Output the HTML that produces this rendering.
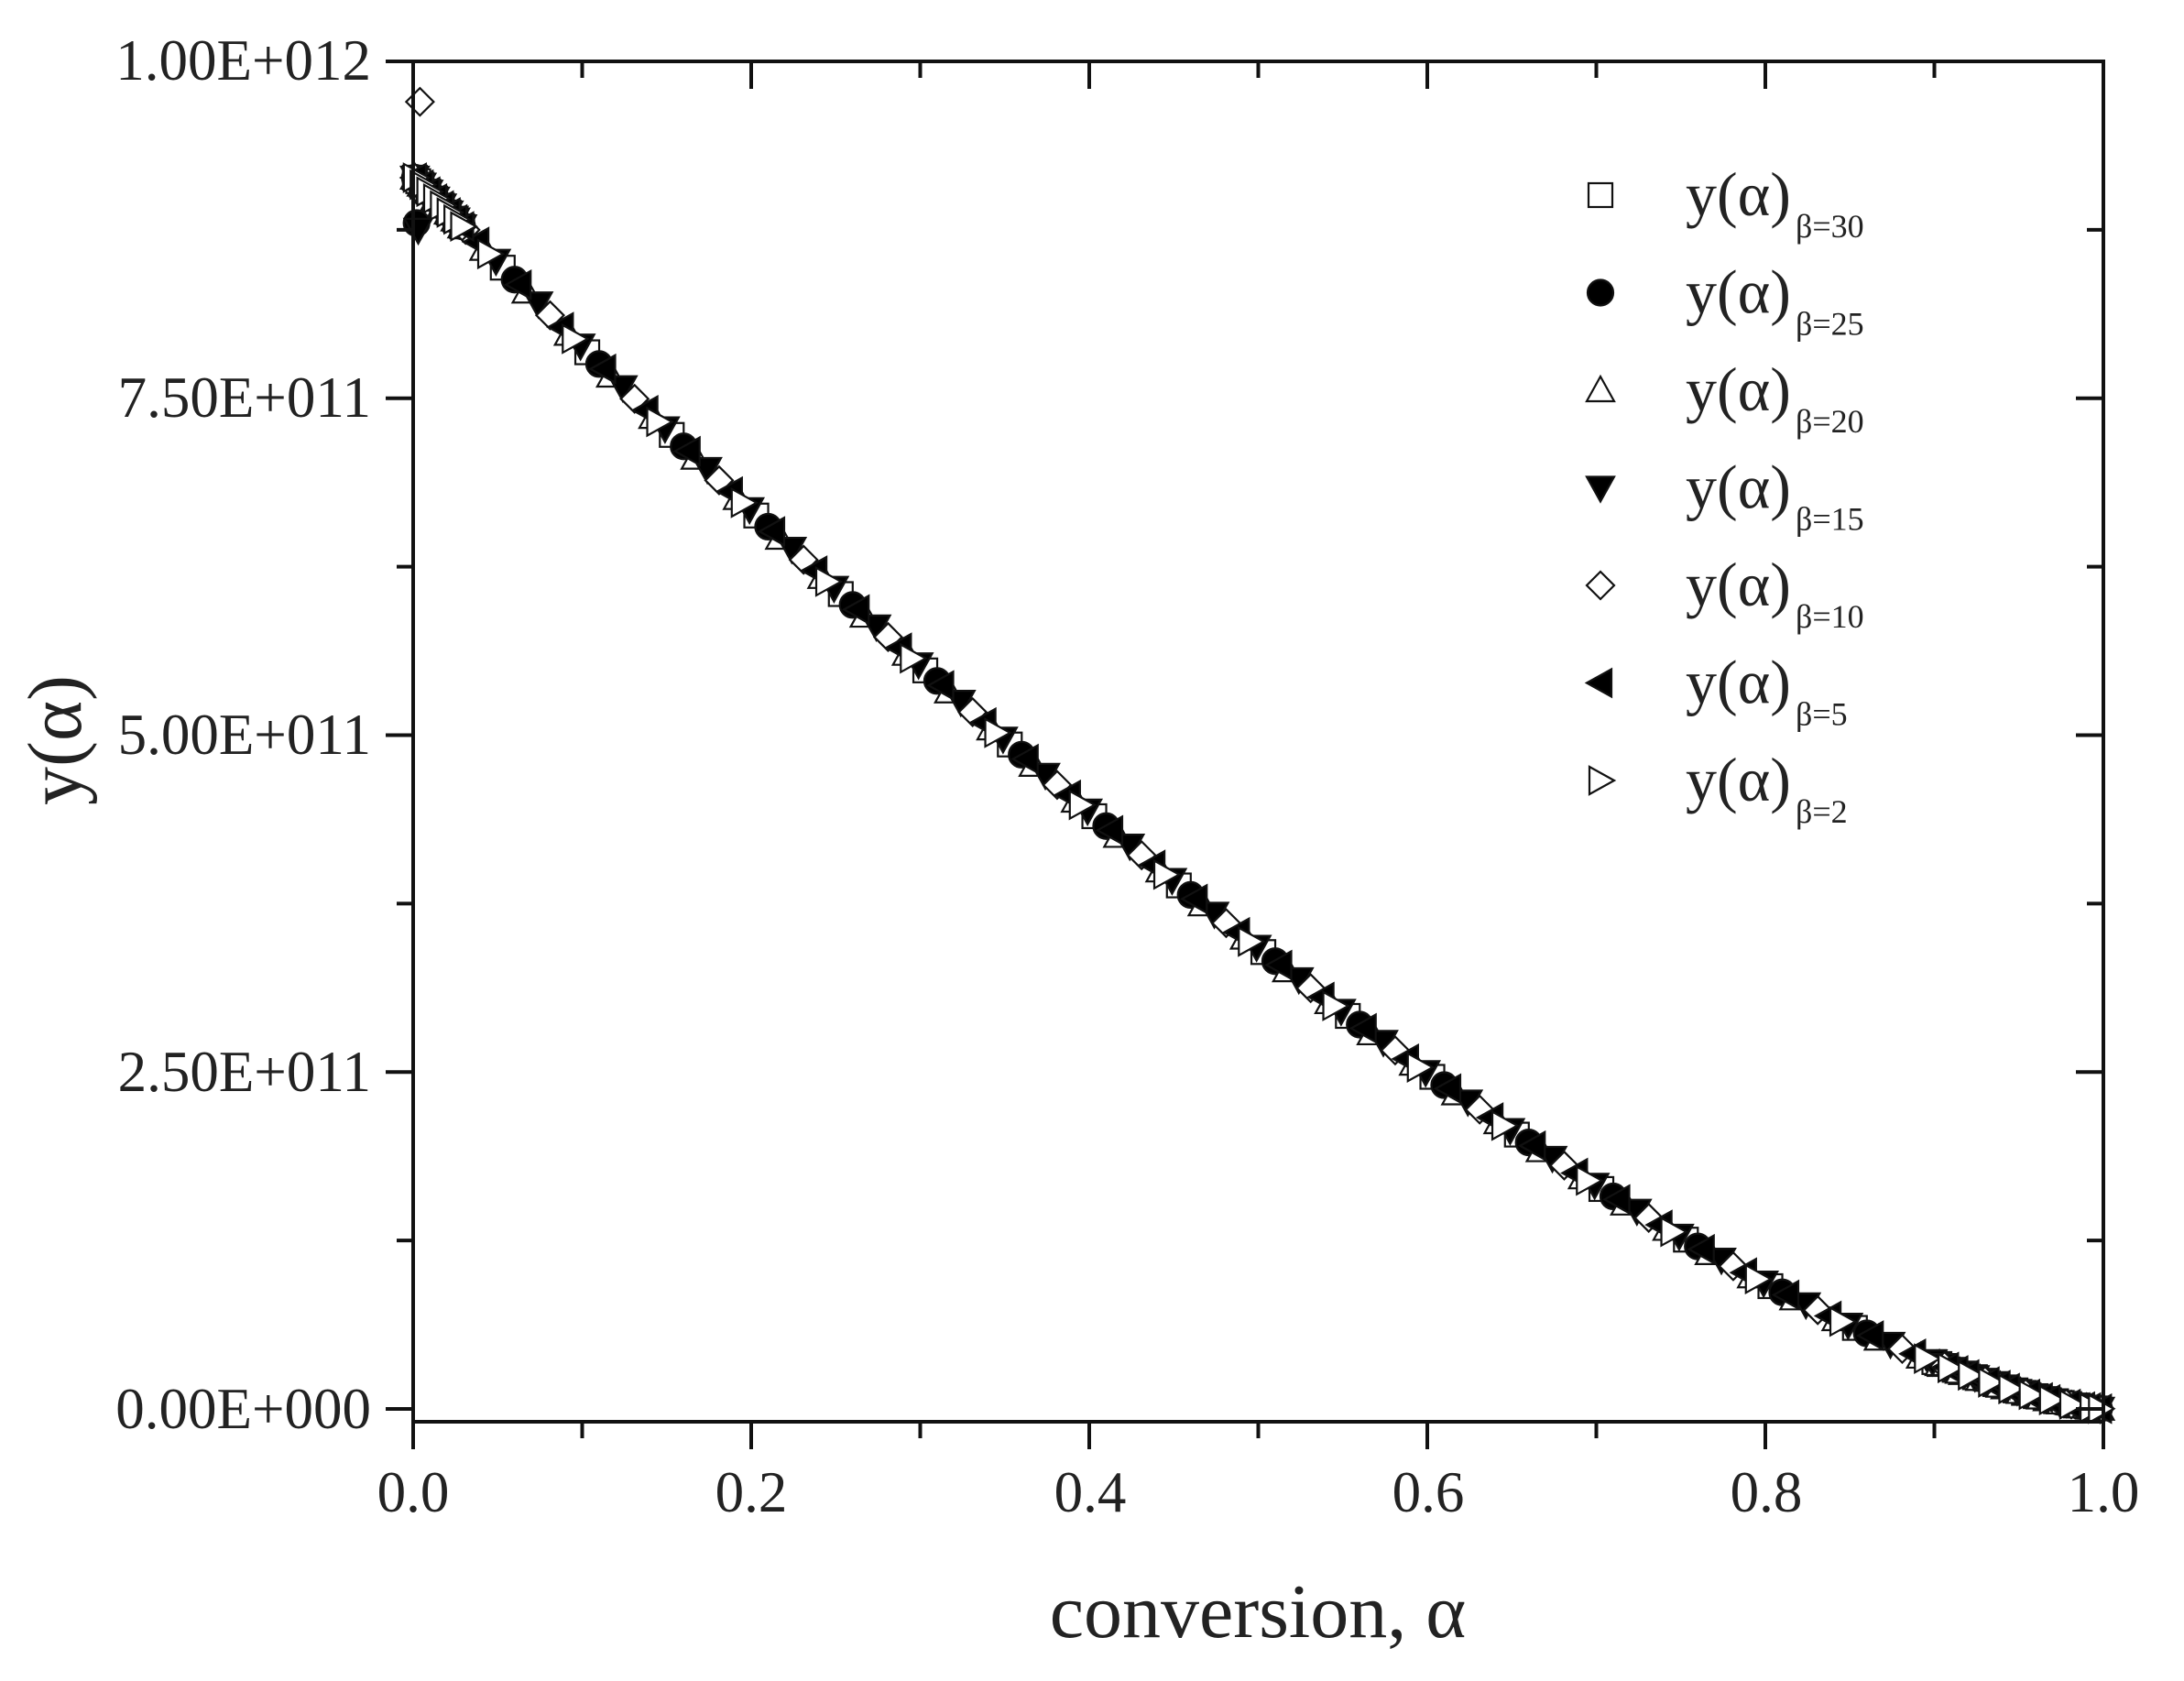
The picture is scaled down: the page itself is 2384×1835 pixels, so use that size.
<!DOCTYPE html>
<html><head><meta charset="utf-8"><style>
html,body{margin:0;padding:0;background:#fff;}
svg text{font-family:"Liberation Serif",serif;fill:#222;}
</style></head><body>
<svg id="s" width="2384" height="1830" xmlns="http://www.w3.org/2000/svg">
<g id="d" stroke="#111" stroke-width="2.2"></g>
<rect x="451" y="67" width="1845" height="1485" fill="none" stroke="#111" stroke-width="4"/>
<g id="t" stroke="#111" stroke-width="4"></g>
<g font-size="63" text-anchor="end">
<text x="405" y="87">1.00E+012</text>
<text x="405" y="455">7.50E+011</text>
<text x="405" y="823">5.00E+011</text>
<text x="405" y="1191">2.50E+011</text>
<text x="405" y="1559">0.00E+000</text>
</g>
<g font-size="63" text-anchor="middle">
<text x="451" y="1650">0.0</text>
<text x="820" y="1650">0.2</text>
<text x="1190" y="1650">0.4</text>
<text x="1559" y="1650">0.6</text>
<text x="1928" y="1650">0.8</text>
<text x="2296" y="1650">1.0</text>
</g>
<text x="1373" y="1787" font-size="84" text-anchor="middle">conversion, α</text>
<text transform="translate(88,808) rotate(-90)" font-size="84" text-anchor="middle">y(α)</text>
<g id="lg" stroke="#111" stroke-width="2.2"></g>
<g font-size="68" id="lt"></g>
</svg>
<script>
var NS="http://www.w3.org/2000/svg";
function el(p,n,a){var e=document.createElementNS(NS,n);for(var k in a)e.setAttribute(k,a[k]);p.appendChild(e);return e;}
var X=function(a){return 451+a*1845;}, Y=function(v){return 1538-v*1471;};
var t=document.getElementById('t');
for(var i=0;i<=10;i++){var x=X(i/10),L=i%2?18:30;
 el(t,'line',{x1:x,y1:1552,x2:x,y2:1552+L});el(t,'line',{x1:x,y1:67,x2:x,y2:67+L});}
for(var i=0;i<=8;i++){var y=Y(i/8),L=i%2?18:30;
 el(t,'line',{x1:451,y1:y,x2:451-L,y2:y});el(t,'line',{x1:2296,y1:y,x2:2296-L,y2:y});}
function mk(g,type,x,y){var r=15;
 switch(type){
 case 0:el(g,'rect',{x:x-r+2,y:y-r+2,width:2*r-4,height:2*r-4,fill:'#fff'});break;
 case 1:el(g,'circle',{cx:x,cy:y,r:r-1,fill:'#000'});break;
 case 2:el(g,'polygon',{points:(x)+','+(y-r)+' '+(x+r)+','+(y+r-3)+' '+(x-r)+','+(y+r-3),fill:'#fff'});break;
 case 3:el(g,'polygon',{points:(x)+','+(y+r)+' '+(x+r)+','+(y-r+3)+' '+(x-r)+','+(y-r+3),fill:'#000'});break;
 case 4:el(g,'polygon',{points:x+','+(y-r)+' '+(x+r)+','+y+' '+x+','+(y+r)+' '+(x-r)+','+y,fill:'#fff'});break;
 case 5:el(g,'polygon',{points:(x-r)+','+y+' '+(x+r-3)+','+(y-r)+' '+(x+r-3)+','+(y+r),fill:'#000'});break;
 case 6:el(g,'polygon',{points:(x+r)+','+y+' '+(x-r+3)+','+(y-r)+' '+(x-r+3)+','+(y+r),fill:'#fff'});break;}}
var d=document.getElementById('d');
function f(a){return 0.915*Math.pow(1-a,1.42);}
var pts=[];
for(var s=0;s<7;s++){
 var step=[0.05,0.05,0.025,0.025,0.05,0.025,0.05][s];
 for(var a=0.003+s*0.007;a<0.999;a+=step){pts.push([s,a]);}
 for(var a=0.9;a<0.999;a+=0.012)pts.push([s,a+s*0.0015]);
 for(var a=0.001;a<0.03;a+=0.004)pts.push([s,a]);
}
pts.forEach(function(p){var a=Math.min(p[1],0.998);mk(d,p[0],X(a),Y(f(a)));});
mk(d,1,X(0.002),Y(0.88));mk(d,3,X(0.003),Y(0.875));mk(d,4,X(0.004),Y(0.97));
var lg=document.getElementById('lg'),lt=document.getElementById('lt');
var subs=['30','25','20','15','10','5','2'];
for(var i=0;i<7;i++){var y=213+i*106.5;mk(lg,i,1747,y);
 var tx=el(lt,'text',{x:1840,y:y+22});tx.textContent='y(α)';
 var sb=el(lt,'text',{x:1960,y:y+46,'font-size':36});sb.textContent='β='+subs[i];}
</script>
</body></html>
